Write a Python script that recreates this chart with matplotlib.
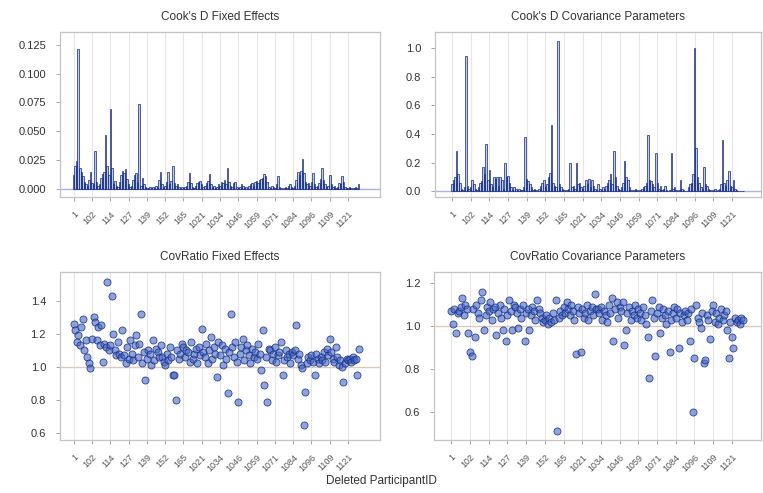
import numpy as np
import matplotlib
matplotlib.use('Agg')
import matplotlib.pyplot as plt

plt.rcParams['font.family'] = ['Liberation Sans', 'DejaVu Sans']

# deleted participant labels shown on the axis (one every 12 participants)
tick_labels = ['1', '102', '114', '127', '139', '152', '165', '1021', '1034',
               '1046', '1059', '1071', '1084', '1096', '1109', '1121']
tick_step = 12

cookd_fixed = [
    0.012, 0.020, 0.024, 0.121, 0.018, 0.015, 0.011, 0.006, 0.004, 0.003, 0.008, 0.015,
    0.005, 0.004, 0.033, 0.006, 0.003, 0.004, 0.010, 0.013, 0.015, 0.047, 0.020, 0.012,
    0.069, 0.018, 0.004, 0.007, 0.003, 0.002, 0.006, 0.012, 0.016, 0.014, 0.017, 0.009,
    0.004, 0.002, 0.003, 0.008, 0.012, 0.014, 0.006, 0.074, 0.003, 0.010, 0.004, 0.002,
    0.001, 0.001, 0.002, 0.001, 0.002, 0.001, 0.003, 0.002, 0.008, 0.015, 0.004, 0.002,
    0.003, 0.006, 0.015, 0.004, 0.007, 0.020, 0.005, 0.003, 0.004, 0.002, 0.001, 0.002,
    0.001, 0.002, 0.003, 0.006, 0.014, 0.005, 0.002, 0.001, 0.003, 0.005, 0.006, 0.007,
    0.004, 0.002, 0.003, 0.005, 0.007, 0.013, 0.004, 0.002, 0.003, 0.001, 0.002, 0.004,
    0.003, 0.006, 0.005, 0.008, 0.004, 0.018, 0.006, 0.003, 0.002, 0.005, 0.006, 0.002,
    0.001, 0.002, 0.004, 0.003, 0.001, 0.002, 0.001, 0.003, 0.004, 0.005, 0.003, 0.006,
    0.007, 0.005, 0.008, 0.009, 0.010, 0.013, 0.011, 0.006, 0.002, 0.001, 0.003, 0.002,
    0.001, 0.004, 0.011, 0.002, 0.001, 0.000, 0.001, 0.002, 0.001, 0.003, 0.004, 0.002,
    0.001, 0.003, 0.008, 0.015, 0.012, 0.016, 0.026, 0.014, 0.006, 0.004, 0.005, 0.003,
    0.006, 0.014, 0.004, 0.002, 0.003, 0.005, 0.009, 0.018, 0.008, 0.004, 0.002, 0.003,
    0.012, 0.004, 0.002, 0.003, 0.001, 0.002, 0.005, 0.004, 0.011, 0.006, 0.002, 0.001,
    0.001, 0.002, 0.001, 0.000, 0.001, 0.002, 0.001, 0.004]

cookd_cov = [
    0.05, 0.08, 0.10, 0.28, 0.12, 0.06, 0.02, 0.01, 0.03, 0.94, 0.04, 0.02,
    0.03, 0.08, 0.05, 0.02, 0.01, 0.03, 0.06, 0.07, 0.17, 0.12, 0.33, 0.08,
    0.15, 0.05, 0.03, 0.10, 0.09, 0.10, 0.04, 0.10, 0.08, 0.02, 0.20, 0.10,
    0.11, 0.06, 0.03, 0.01, 0.03, 0.02, 0.01, 0.02, 0.01, 0.01, 0.03, 0.38,
    0.09, 0.07, 0.05, 0.03, 0.01, 0.02, 0.01, 0.00, 0.02, 0.04, 0.06, 0.08,
    0.03, 0.05, 0.10, 0.13, 0.46, 0.06, 0.04, 0.03, 1.05, 0.05, 0.03, 0.02,
    0.01, 0.00, 0.01, 0.02, 0.20, 0.03, 0.04, 0.02, 0.20, 0.05, 0.06, 0.03,
    0.02, 0.04, 0.08, 0.05, 0.09, 0.03, 0.08, 0.04, 0.02, 0.01, 0.05, 0.02,
    0.01, 0.03, 0.02, 0.04, 0.06, 0.08, 0.12, 0.05, 0.28, 0.10, 0.04, 0.02,
    0.01, 0.03, 0.06, 0.21, 0.10, 0.08, 0.03, 0.01, 0.00, 0.01, 0.02, 0.01,
    0.00, 0.01, 0.02, 0.03, 0.04, 0.06, 0.39, 0.08, 0.07, 0.05, 0.03, 0.27,
    0.06, 0.02, 0.04, 0.01, 0.02, 0.04, 0.01, 0.00, 0.01, 0.27, 0.02, 0.03,
    0.01, 0.00, 0.01, 0.08, 0.02, 0.01, 0.00, 0.00, 0.03, 0.05, 0.06, 0.12,
    1.00, 0.30, 0.10, 0.06, 0.03, 0.02, 0.17, 0.05, 0.04, 0.02, 0.01, 0.00,
    0.01, 0.02, 0.00, 0.01, 0.02, 0.05, 0.36, 0.06, 0.04, 0.08, 0.14, 0.04,
    0.03, 0.08, 0.02, 0.01, 0.00, 0.00, 0.00, 0.00]

covratio_fixed = [
    1.26, 1.22, 1.15, 1.19, 1.13, 1.24, 1.29, 1.10, 1.16, 1.06, 1.02, 0.99,
    1.17, 1.30, 1.27, 1.16, 1.24, 1.13, 1.25, 1.03, 1.14, 1.12, 1.51, 1.10,
    1.13, 1.43, 1.20, 1.10, 1.07, 1.15, 1.08, 1.06, 1.22, 1.07, 1.02, 1.12,
    1.05, 1.16, 1.08, 1.04, 1.13, 1.19, 1.06, 1.14, 1.32, 1.02, 1.09, 0.92,
    1.05, 1.10, 1.08, 1.01, 1.16, 1.04, 1.11, 1.09, 1.06, 1.13, 1.06, 1.03,
    1.01, 1.08, 1.04, 1.12, 1.06, 0.95, 0.95, 0.80, 1.10, 1.05, 1.08, 1.14,
    1.12, 1.06, 1.10, 1.09, 1.03, 1.15, 1.05, 1.08, 1.11, 1.02, 1.12, 1.07,
    1.23, 1.09, 1.06, 1.14, 1.02, 1.10, 1.18, 1.05, 1.12, 1.08, 0.94, 1.15,
    1.07, 1.13, 1.01, 1.11, 1.05, 0.84, 1.09, 1.32, 1.12, 1.06, 1.15, 1.03,
    0.79, 1.08, 1.12, 1.17, 1.04, 1.10, 1.13, 1.07, 1.02, 1.11, 1.06, 1.09,
    1.05, 1.14, 1.08, 0.98, 1.22, 0.89, 1.06, 0.79, 1.11, 1.10, 1.04, 1.08,
    1.12, 1.03, 1.07, 1.09, 1.15, 0.95, 1.04, 1.10, 1.06, 1.08, 1.02, 1.09,
    1.07, 1.10, 1.25, 1.05, 1.08, 1.01, 0.99, 0.65, 0.85, 1.02, 1.06, 1.04,
    1.07, 1.03, 0.95, 1.08, 1.05, 1.02, 1.06, 1.04, 1.09, 1.03, 1.11, 1.07,
    1.17, 1.09, 1.05, 1.03, 1.12, 1.06, 1.01, 1.04, 1.00, 0.91, 1.02, 1.05,
    1.04, 1.05, 1.03, 1.06, 1.04, 1.05, 0.95, 1.11]

covratio_cov = [
    1.07, 1.01, 1.08, 0.97, 1.06, 1.07, 1.09, 1.13, 1.05, 1.10, 1.08, 0.97,
    0.88, 0.86, 1.08, 0.95, 1.10, 1.06, 1.04, 1.12, 1.16, 0.98, 1.05, 1.09,
    1.07, 1.11, 1.03, 1.08, 1.09, 0.96, 1.06, 1.10, 1.04, 0.98, 1.08, 0.93,
    1.05, 1.12, 1.07, 0.98, 1.10, 1.09, 1.06, 0.99, 1.08, 1.04, 1.10, 0.93,
    1.06, 1.08, 0.98, 1.05, 1.09, 1.07, 1.03, 1.12, 1.08, 1.06, 1.04, 1.02,
    1.03, 1.05, 1.01, 1.04, 1.02, 1.06, 1.03, 1.12, 0.51, 1.04, 1.07, 1.05,
    1.09, 1.06, 1.11, 1.08, 1.05, 1.10, 1.07, 1.03, 0.87, 1.09, 1.06, 0.88,
    1.08, 1.04, 1.06, 1.10, 1.03, 1.07, 1.09, 1.05, 1.15, 1.08, 1.08, 1.06,
    1.09, 1.03, 1.07, 1.05, 1.02, 1.10, 1.06, 1.13, 0.93, 1.08, 1.11, 1.04,
    1.09, 1.07, 1.11, 0.91, 0.98, 1.06, 1.09, 1.03, 1.07, 1.05, 1.10, 1.04,
    1.08, 1.06, 1.03, 1.09, 1.05, 1.01, 0.95, 0.76, 1.07, 1.12, 1.04, 0.86,
    1.06, 1.09, 0.97, 1.04, 1.08, 1.05, 1.01, 1.07, 0.88, 1.03, 1.06, 1.09,
    1.04, 1.08, 0.90, 1.06, 1.02, 1.05, 1.07, 1.03, 1.06, 0.93, 1.08, 0.60,
    0.85, 1.10, 1.04, 1.02, 0.99, 1.06, 0.83, 0.84, 1.05, 1.03, 0.94, 1.07,
    1.10, 1.02, 1.06, 1.01, 1.04, 1.08, 1.03, 1.05, 1.07, 0.98, 0.85, 1.02,
    0.95, 0.90, 1.04, 1.02, 1.03, 1.01, 1.04, 1.03]

n = len(cookd_fixed)
idx = np.arange(n)
ticks = np.arange(len(tick_labels)) * tick_step

frame_col = '#c4c4c4'
grid_col = '#e6e6e6'
text_col = '#333333'
bar_face = (0.50, 0.59, 0.84, 0.50)
bar_edge = (0.07, 0.16, 0.50, 0.85)
dot_face = (0.28, 0.40, 0.76, 0.60)
dot_edge = (0.08, 0.18, 0.52, 0.85)

fig = plt.figure(figsize=(7.63, 4.93), dpi=100)
ax_tl = fig.add_axes([0.0786, 0.600, 0.4195, 0.335])
ax_tr = fig.add_axes([0.570, 0.600, 0.428, 0.335])
ax_bl = fig.add_axes([0.0786, 0.1075, 0.4195, 0.340])
ax_br = fig.add_axes([0.569, 0.1075, 0.429, 0.340])


def style(ax, title, yticks, yfmt, ylim, xlim, ref, ref_col):
    ax.set_title(title, fontsize=8.5, color=text_col, pad=9)
    ax.set_xlim(*xlim)
    ax.set_ylim(*ylim)
    ax.set_xticks(ticks)
    ax.set_xticklabels(tick_labels, rotation=45, ha='right', rotation_mode='anchor',
                       fontsize=6.5, color='#555555')
    ax.set_yticks(yticks)
    ax.set_yticklabels([yfmt.format(v) for v in yticks], fontsize=8, color=text_col)
    ax.tick_params(axis='both', length=3, color='#999999', width=0.6)
    ax.tick_params(axis='y', pad=7)
    ax.tick_params(axis='x', pad=6)
    for s in ax.spines.values():
        s.set_color(frame_col)
        s.set_linewidth(0.9)
    for t in ticks:
        ax.axvline(t, color=grid_col, lw=0.8, zorder=0)
    ax.axhline(ref, color=ref_col, lw=1.0, zorder=1)


# Cook's D fixed effects
ax_tl.bar(idx, cookd_fixed, width=1.0, facecolor=bar_face,
          edgecolor=bar_edge, linewidth=0.6, zorder=2)
style(ax_tl, "Cook's D Fixed Effects", [0, 0.025, 0.05, 0.075, 0.1, 0.125], '{:.3f}',
      (-0.007, 0.136), (-9, 201), 0, '#aab4e4')

# Cook's D covariance parameters
ax_tr.bar(idx, cookd_cov, width=1.0, facecolor=bar_face,
          edgecolor=bar_edge, linewidth=0.6, zorder=2)
style(ax_tr, "Cook's D Covariance Parameters", [0, 0.2, 0.4, 0.6, 0.8, 1.0], '{:.1f}',
      (-0.04, 1.11), (-11, 199), 0, '#aab4e4')

# CovRatio fixed effects
ax_bl.scatter(idx, covratio_fixed, s=26, facecolor=dot_face,
              edgecolor=dot_edge, linewidth=0.6, zorder=2)
style(ax_bl, 'CovRatio Fixed Effects', [0.6, 0.8, 1.0, 1.2, 1.4], '{:.1f}',
      (0.558, 1.57), (-9, 201), 1.0, '#dccbbd')

# CovRatio covariance parameters
ax_br.scatter(idx, covratio_cov, s=26, facecolor=dot_face,
              edgecolor=dot_edge, linewidth=0.6, zorder=2)
style(ax_br, 'CovRatio Covariance Parameters', [0.6, 0.8, 1.0, 1.2], '{:.1f}',
      (0.47, 1.25), (-11, 199), 1.0, '#dccbbd')

fig.text(0.5, 0.012, 'Deleted ParticipantID', ha='center', va='bottom',
         fontsize=8.5, color=text_col)

fig.savefig('out.png', dpi=100)
